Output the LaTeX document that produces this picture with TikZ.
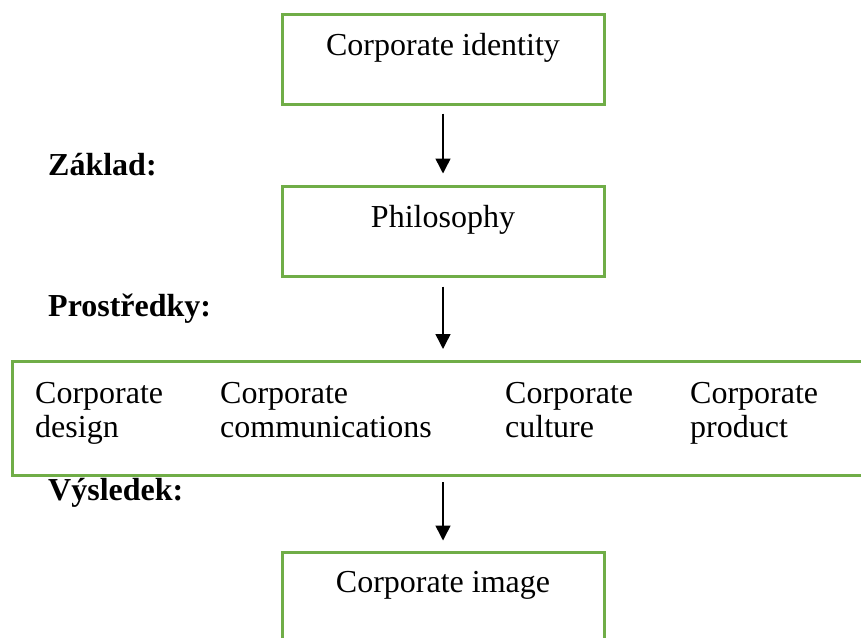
\documentclass[tikz,border=0pt]{standalone}
\usepackage{fontspec}
\setmainfont{Liberation Serif}
\usetikzlibrary{arrows.meta}
\definecolor{boxgreen}{RGB}{112,173,71}
\newcommand{\twolines}[2]{\vtop{\baselineskip=34pt\hbox{#1}\hbox{#2}}}
\begin{document}
\begin{tikzpicture}[x=1pt,y=-1pt,
  box/.style={draw=boxgreen, line width=3pt, rectangle, inner sep=0pt,
    font=\fontsize{32}{38}\selectfont},
  lbl/.style={anchor=base west, inner sep=0pt, font=\fontsize{32}{38}\selectfont\bfseries},
  item/.style={anchor=base west, inner sep=0pt, font=\fontsize{32}{38}\selectfont},
  arr/.style={-{Triangle[length=15pt,width=15pt]}, line width=1.5pt}]
\useasboundingbox (0,0) rectangle (861,637);
\clip (0,0) rectangle (861,637);

\node[box, anchor=base, text height=41pt, text depth=49pt, minimum width=322pt] (ci) at (443,55) {Corporate identity};
\node[box, anchor=base, text height=41pt, text depth=49pt, minimum width=322pt] (ph) at (443,227) {Philosophy};
\node[box, anchor=north west, minimum width=869pt, minimum height=114pt] (cw) at (11,360) {};
\node[box, anchor=base, text height=40pt, text depth=120pt, minimum width=322pt] (cim) at (443,592) {Corporate image};

\node[lbl] (l1) at (48,175) {Základ:};
\node[lbl] (l2) at (48,316) {Prostředky:};
\node[lbl] (l3) at (48,500) {Výsledek:};

\node[item] (i1) at (35,403) {\twolines{Corporate}{design}};
\node[item] (i2) at (220,403) {\twolines{Corporate}{communications}};
\node[item] (i3) at (505,403) {\twolines{Corporate}{culture}};
\node[item] (i4) at (690,403) {\twolines{Corporate}{product}};

\draw[arr, shorten <=8pt, shorten >=11pt] (ci.south) -- (ph.north);
\draw[arr, shorten <=9pt, shorten >=11pt] (ph.south) -- (ph.south |- cw.north);
\draw[arr, shorten <=5pt, shorten >=10pt] (ph.south |- cw.south) -- (cim.north);
\end{tikzpicture}
\end{document}
